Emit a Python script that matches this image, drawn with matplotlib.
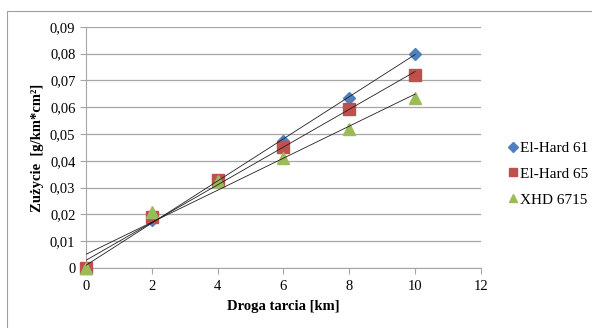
import numpy as np
import matplotlib
matplotlib.use('Agg')
import matplotlib.pyplot as plt
from matplotlib.ticker import FuncFormatter, MultipleLocator
from matplotlib.lines import Line2D

plt.rcParams['font.family'] = ['Liberation Serif', 'DejaVu Serif']

distance = [0, 2, 4, 6, 8, 10]
el_hard_61 = [0.0, 0.018, 0.033, 0.0475, 0.0635, 0.080]
el_hard_65 = [0.0, 0.019, 0.033, 0.045, 0.0595, 0.072]
xhd_6715 = [0.0, 0.021, 0.0325, 0.041, 0.052, 0.0635]

series = [
    ('El-Hard 61', el_hard_61, 'D', '#4F81BD', 6.5),
    ('El-Hard 65', el_hard_65, 's', '#C0504D', 8),
    ('XHD 6715', xhd_6715, '^', '#9BBB59', 8.5),
]

fig = plt.figure(figsize=(5.92, 3.28), dpi=100)
ax = fig.add_axes([0.145, 0.183, 0.6675, 0.735])

# outer chart frame, only top and left edges fall inside the picture
fig.lines.append(Line2D([0.012, 0.012, 1.0], [0.0, 0.966, 0.966],
                        transform=fig.transFigure, color='#a0a0a0', linewidth=0.8))

x = np.array(distance)
for name, vals, marker, color, ms in series:
    ax.plot(distance, vals, linestyle='none', marker=marker, color=color,
            markersize=ms, label=name, zorder=3, clip_on=False)
for name, vals, marker, color, ms in series:
    k, b = np.polyfit(x, np.array(vals), 1)
    xx = np.array([0, 10])
    ax.plot(xx, k * xx + b, color='#202020', linewidth=0.6, zorder=4)

ax.set_xlim(0, 12)
ax.set_ylim(0, 0.09)
ax.xaxis.set_major_locator(MultipleLocator(2))
ax.yaxis.set_major_locator(MultipleLocator(0.01))
ax.yaxis.set_major_formatter(FuncFormatter(
    lambda v, p: '0' if abs(v) < 1e-9 else f'{v:.2f}'.replace('.', ',')))

ax.grid(axis='y', color='#a6a6a6', linewidth=0.9)
ax.set_axisbelow(True)
for s in ['top', 'right']:
    ax.spines[s].set_visible(False)
for s in ['left', 'bottom']:
    ax.spines[s].set_color('#a6a6a6')
ax.tick_params(axis='both', colors='#a6a6a6', labelcolor='black', labelsize=10.5,
               length=4, width=0.8)
ax.tick_params(axis='x', pad=5)

ax.set_xlabel('Droga tarcia [km]', fontsize=10.5, fontweight='bold', labelpad=5)
ax.set_ylabel('Zużycie  [g/km*cm²]', fontsize=10.5, fontweight='bold')

ax.legend(loc='center left', bbox_to_anchor=(1.035, 0.39), frameon=False,
          fontsize=11, handlelength=0.6, handletextpad=0.15, labelspacing=0.8,
          markerscale=0.75)

fig.savefig('out.png', dpi=100)
